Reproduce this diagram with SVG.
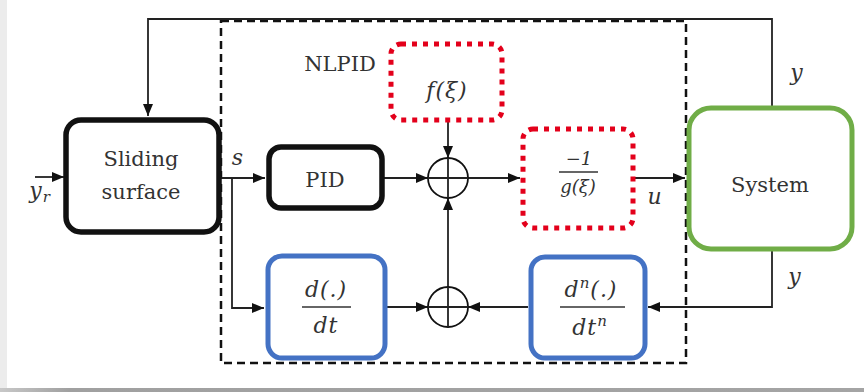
<svg xmlns="http://www.w3.org/2000/svg" width="864" height="392" viewBox="0 0 864 392">
<defs>
<marker id="arr" viewBox="0 0 12 10" refX="12" refY="5" markerWidth="12" markerHeight="10" markerUnits="userSpaceOnUse" orient="auto">
<path d="M0,0 L12,5 L0,10 Z" fill="#111"/>
</marker>
<linearGradient id="bot" x1="0" y1="0" x2="1" y2="0">
<stop offset="0" stop-color="#c8c8c8"/>
<stop offset="0.08" stop-color="#a0a0a0"/>
<stop offset="1" stop-color="#a4a4a4"/>
</linearGradient>
</defs>
<style>
.bk{fill:#fff;stroke:#111;stroke-width:5.5}
.rd{fill:#fff;stroke:#e3001b;stroke-width:5;stroke-dasharray:5 6}
.bl{fill:#fff;stroke:#4472c4;stroke-width:5}
.gr{fill:#fff;stroke:#70ad47;stroke-width:5}
.ln{fill:none;stroke:#222;stroke-width:1.8}
.sum{fill:#fff;stroke:#111;stroke-width:1.8}
.t{font-family:"DejaVu Serif","Liberation Serif",serif;font-size:21px;fill:#333;text-anchor:middle}
.m{font-family:"DejaVu Serif","Liberation Serif",serif;font-style:italic;font-size:22px;fill:#333;text-anchor:middle;letter-spacing:1px}
.ms{font-family:"DejaVu Serif","Liberation Serif",serif;font-style:italic;font-size:18px;fill:#333;text-anchor:middle}
</style>
<rect x="0" y="0" width="864" height="392" fill="#fff"/>
<rect x="0" y="0" width="7" height="392" fill="#ececec"/>
<rect x="0" y="388" width="864" height="4" fill="url(#bot)"/>

<g id="nlpid-frame">
<rect x="221" y="21" width="465" height="342" fill="none" stroke="#111" stroke-width="2.5" stroke-dasharray="8 5"/>
<text class="t" x="340" y="71" font-size="22">NLPID</text>
</g>

<g id="connectors">
<path class="ln" d="M772,106 V19 H148 V116" marker-end="url(#arr)"/>
<path class="ln" d="M35,177 H64" marker-end="url(#arr)"/>
<path class="ln" d="M220,178 H265" marker-end="url(#arr)"/>
<path class="ln" d="M232,178 V308 H264" marker-end="url(#arr)"/>
<path class="ln" d="M383,178 H428" marker-end="url(#arr)"/>
<path class="ln" d="M448,121 V158" marker-end="url(#arr)"/>
<path class="ln" d="M468,178 H520" marker-end="url(#arr)"/>
<path class="ln" d="M634,178 H685" marker-end="url(#arr)"/>
<path class="ln" d="M772,251 V307 H648" marker-end="url(#arr)"/>
<path class="ln" d="M528,307 H468" marker-end="url(#arr)"/>
<path class="ln" d="M386,307 H428" marker-end="url(#arr)"/>
<path class="ln" d="M448,287 V198" marker-end="url(#arr)"/>
<text class="m" x="40" y="198" font-size="24">y<tspan font-size="15" dy="4">r</tspan></text>
<text class="m" x="238" y="165">s</text>
<text class="m" x="655" y="204">u</text>
<text class="m" x="797" y="80" font-size="24">y</text>
<text class="m" x="795" y="284" font-size="24">y</text>
</g>

<g id="sliding">
<rect class="bk" x="66" y="120" width="153" height="112" rx="15"/>
<text class="t" x="141" y="166">Sliding</text>
<text class="t" x="141" y="199">surface</text>
</g>

<g id="pid">
<rect class="bk" x="269" y="147" width="113" height="61" rx="12"/>
<text class="t" x="325" y="187">PID</text>
</g>

<g id="f">
<rect class="rd" x="391" y="44" width="111" height="76" rx="10"/>
<text class="m" x="447" y="98">f(ξ)</text>
</g>

<g id="sum1">
<circle class="sum" cx="448" cy="178" r="20"/>
<path class="ln" d="M428,178 H468 M448,158 V198"/>
</g>

<g id="ginv">
<rect class="rd" x="523" y="129" width="110" height="99" rx="10"/>
<text class="ms" x="579" y="165">−1</text>
<line x1="559" y1="172" x2="598" y2="172" stroke="#333" stroke-width="1.5"/>
<text class="ms" x="578" y="193">g(ξ)</text>
</g>

<g id="system">
<rect class="gr" x="689" y="108" width="163" height="141" rx="22"/>
<text class="t" x="770" y="192">System</text>
</g>

<g id="ddt">
<rect class="bl" x="268" y="256" width="117" height="102" rx="14"/>
<text class="m" x="326" y="297">d(.)</text>
<line x1="302" y1="307" x2="351" y2="307" stroke="#333" stroke-width="1.5"/>
<text class="m" x="326" y="333">dt</text>
</g>

<g id="sum2">
<circle class="sum" cx="448" cy="307" r="20"/>
<path class="ln" d="M428,307 H468 M448,287 V327"/>
</g>

<g id="dndt">
<rect class="bl" x="531" y="257" width="114" height="101" rx="14"/>
<text class="m" x="591" y="297">d<tspan font-size="15" dy="-9">n</tspan><tspan dy="9">(.)</tspan></text>
<line x1="560" y1="307" x2="625" y2="307" stroke="#333" stroke-width="1.5"/>
<text class="m" x="590" y="335">dt<tspan font-size="15" dy="-9">n</tspan></text>
</g>
</svg>
